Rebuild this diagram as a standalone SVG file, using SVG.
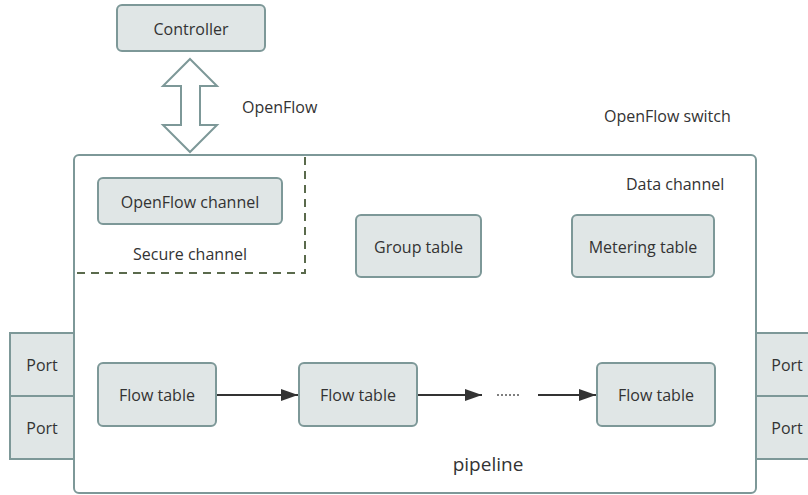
<svg xmlns="http://www.w3.org/2000/svg" width="808" height="495" viewBox="0 0 808 495">
<defs>
<style>
.box{fill:#e0e6e6;stroke:#7d9898;stroke-width:2}
.t{font-family:"Open Sans","Noto Sans",sans-serif;font-size:16px;fill:#333;text-anchor:middle;dominant-baseline:central}
.lbl{font-family:"Open Sans","Noto Sans",sans-serif;font-size:16px;fill:#333;dominant-baseline:central}
.conn{stroke:#333;stroke-width:2;fill:none}
</style>
<marker id="ah2" viewBox="0 0 17 12" refX="17" refY="6" markerWidth="17" markerHeight="12" markerUnits="userSpaceOnUse" orient="auto">
<path d="M0,0 L17,6 L0,12 z" fill="#333"/>
</marker>
</defs>
<rect width="808" height="495" fill="#fff"/>

<g id="switch">
<rect x="74" y="155" width="682" height="338" rx="5" fill="#fff" stroke="#7d9898" stroke-width="2"/>
<text class="lbl" x="604" y="116">OpenFlow switch</text>
<text class="lbl" x="626" y="184">Data channel</text>
<text class="t" x="488" y="464" style="font-size:19px">pipeline</text>
</g>

<g id="secure">
<path d="M305,157 V273 H75" fill="none" stroke="#5a6a4c" stroke-width="2" stroke-dasharray="8,6"/>
<text class="t" x="190" y="254">Secure channel</text>
</g>

<g id="controller">
<rect class="box" x="117" y="5" width="148" height="46" rx="5"/>
<text class="t" x="191" y="29">Controller</text>
</g>

<g id="openflow-arrow">
<path d="M190,59 L217,86 L200,86 L200,125 L217,125 L190,152 L163,125 L181,125 L181,86 L163,86 Z" fill="#fff" stroke="#7d9898" stroke-width="2"/>
<text class="lbl" x="242" y="107">OpenFlow</text>
</g>

<g id="openflow-channel">
<rect class="box" x="98" y="178" width="184" height="46" rx="5"/>
<text class="t" x="190" y="202">OpenFlow channel</text>
</g>

<g id="group-table">
<rect class="box" x="356" y="215" width="125" height="62" rx="5"/>
<text class="t" x="418.5" y="247">Group table</text>
</g>

<g id="metering-table">
<rect class="box" x="572" y="215" width="142" height="62" rx="5"/>
<text class="t" x="643" y="247">Metering table</text>
</g>

<g id="flow1">
<rect class="box" x="98" y="363" width="118" height="63" rx="5"/>
<text class="t" x="157" y="395">Flow table</text>
</g>
<g id="flow2">
<rect class="box" x="299" y="363" width="118" height="63" rx="5"/>
<text class="t" x="358" y="395">Flow table</text>
</g>
<g id="flow3">
<rect class="box" x="597" y="363" width="118" height="63" rx="5"/>
<text class="t" x="656" y="395">Flow table</text>
</g>

<g id="ports">
<rect class="box" x="10" y="333" width="64" height="63"/>
<text class="t" x="42" y="365">Port</text>
<rect class="box" x="10" y="396" width="64" height="63"/>
<text class="t" x="42" y="428">Port</text>
<rect class="box" x="756" y="333" width="60" height="63"/>
<text class="t" x="787" y="365">Port</text>
<rect class="box" x="756" y="396" width="60" height="63"/>
<text class="t" x="787" y="428">Port</text>
</g>

<g id="connectors">
<line class="conn" x1="217" y1="395" x2="298" y2="395" marker-end="url(#ah2)"/>
<line class="conn" x1="418" y1="395" x2="482" y2="395" marker-end="url(#ah2)"/>
<line x1="497" y1="395" x2="520" y2="395" stroke="#555" stroke-width="1.5" stroke-dasharray="2,2"/>
<line class="conn" x1="538" y1="395" x2="596" y2="395" marker-end="url(#ah2)"/>
</g>
</svg>
